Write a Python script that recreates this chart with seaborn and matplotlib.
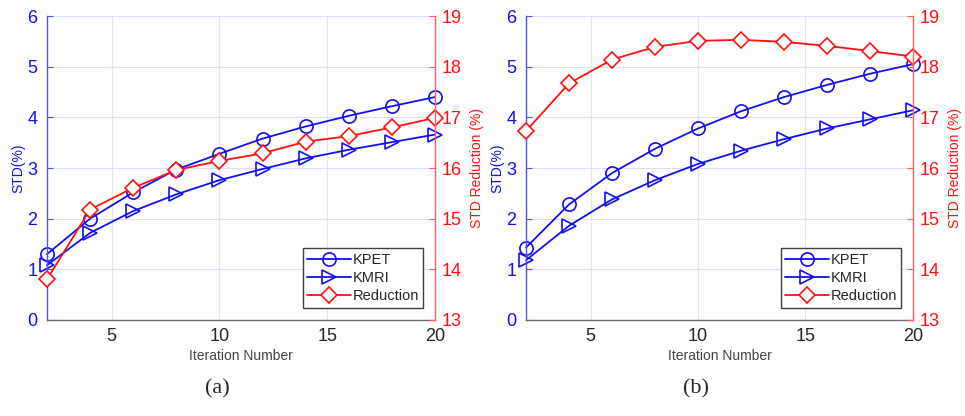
import matplotlib
matplotlib.use("Agg")
import matplotlib.pyplot as plt
import seaborn as sns
import pandas as pd

# Iterations (x axis)
iterations = [2, 4, 6, 8, 10, 12, 14, 16, 18, 20]

# Panel (a)
kpet_a = [1.30, 2.00, 2.52, 2.97, 3.28, 3.58, 3.82, 4.03, 4.22, 4.40]
kmri_a = [1.08, 1.72, 2.15, 2.48, 2.76, 2.98, 3.19, 3.36, 3.51, 3.66]
red_a = [13.80, 15.18, 15.61, 15.96, 16.14, 16.29, 16.52, 16.63, 16.80, 16.99]

# Panel (b)
kpet_b = [1.43, 2.28, 2.90, 3.38, 3.78, 4.12, 4.40, 4.64, 4.86, 5.05]
kmri_b = [1.18, 1.86, 2.38, 2.76, 3.08, 3.34, 3.57, 3.78, 3.96, 4.14]
red_b = [16.73, 17.67, 18.14, 18.39, 18.51, 18.53, 18.49, 18.41, 18.31, 18.20]

panel_labels = ["(a)", "(b)"]

sns.set_style("white")
plt.rcParams["font.family"] = ["Liberation Sans", "DejaVu Sans"]

BLUE = "#1010f0"
RED = "#ff1010"
BLUE_AX = "#5050ff"
RED_AX = "#ff6060"

fig = plt.figure(figsize=(9.65, 4.16), dpi=100)
positions = [[0.0487, 0.2308, 0.4021, 0.7307], [0.5451, 0.2308, 0.4010, 0.7307]]
datasets = [(kpet_a, kmri_a, red_a), (kpet_b, kmri_b, red_b)]

for pos, (kpet, kmri, red), plabel in zip(positions, datasets, panel_labels):
    ax = fig.add_axes(pos)
    ax2 = ax.twinx()
    df = pd.DataFrame({"x": iterations, "kpet": kpet, "kmri": kmri, "red": red})

    mk = dict(markersize=9.5, markerfacecolor="none", markeredgewidth=1.2,
              linewidth=1.3, clip_on=False)
    sns.lineplot(data=df, x="x", y="kpet", ax=ax, color=BLUE, marker="o",
                 markeredgecolor=BLUE, label="KPET", legend=False, **mk)
    sns.lineplot(data=df, x="x", y="kmri", ax=ax, color=BLUE, marker=">",
                 markeredgecolor=BLUE, label="KMRI", legend=False, **mk)
    sns.lineplot(data=df, x="x", y="red", ax=ax2, color=RED, marker="D",
                 markeredgecolor=RED, label="Reduction", legend=False,
                 markersize=8.5, markerfacecolor="white", markeredgewidth=1.2,
                 linewidth=1.3, clip_on=False)

    ax.set_xlim(2, 20)
    ax.set_ylim(0, 6)
    ax2.set_ylim(13, 19)
    ax.set_xticks([5, 10, 15, 20])
    ax.set_yticks(range(0, 7))
    ax2.set_yticks(range(13, 20))

    # grid
    ax.yaxis.grid(True, color="#dcdcff", linewidth=0.8)
    ax.xaxis.grid(True, color="#e6e6e6", linewidth=0.8)
    ax.set_axisbelow(True)

    for a in (ax, ax2):
        a.spines["top"].set_visible(False)
    ax.spines["right"].set_visible(False)
    ax2.spines["left"].set_visible(False)
    ax2.spines["bottom"].set_visible(False)
    ax.spines["left"].set_color(BLUE_AX)
    ax2.spines["right"].set_color(RED_AX)
    ax.spines["bottom"].set_color("#6e6e6e")
    for a in (ax, ax2):
        for s in a.spines.values():
            s.set_linewidth(1.0)

    ax.tick_params(axis="y", direction="in", colors=BLUE_AX, labelcolor=BLUE,
                   labelsize=13, length=4, pad=7)
    ax.tick_params(axis="x", direction="in", colors="#555555", labelcolor="#262626",
                   labelsize=13, length=4, pad=6)
    ax2.tick_params(axis="y", direction="in", colors=RED_AX, labelcolor=RED,
                    labelsize=13, length=4, pad=5)

    ax.set_xlabel("Iteration Number", fontsize=10, color="#444444", labelpad=3)
    ax.set_ylabel("STD(%)", fontsize=10, color=BLUE, labelpad=1)
    ax2.set_ylabel("STD Reduction (%)", fontsize=10, color=RED, labelpad=6)

    h1, l1 = ax.get_legend_handles_labels()
    h2, l2 = ax2.get_legend_handles_labels()
    leg = ax2.legend(h1 + h2, l1 + l2, loc="lower right", bbox_to_anchor=(0.97, 0.04),
                     fontsize=10.5, frameon=True, fancybox=False, framealpha=1,
                     edgecolor="#404040", handlelength=3.0, handletextpad=0.1,
                     borderpad=0.3, labelspacing=0.3, borderaxespad=0)
    leg.get_frame().set_linewidth(1.0)

    fig.text(pos[0] + pos[2] * 0.44, 0.065, plabel, fontsize=16,
             family=["Liberation Serif", "DejaVu Serif"], ha="center", va="center")

fig.savefig("out.png", dpi=100)
